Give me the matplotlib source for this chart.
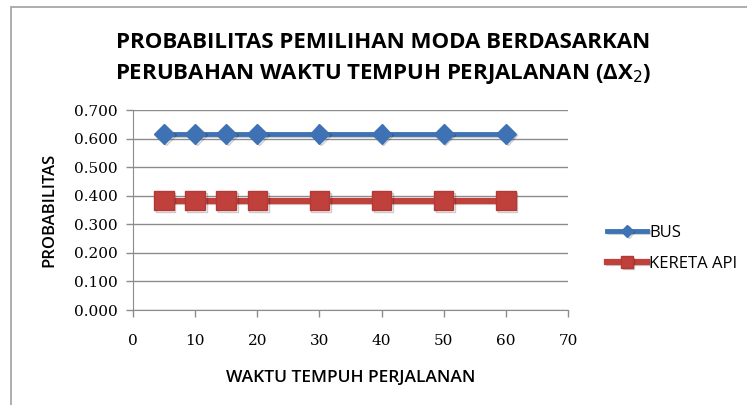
import matplotlib
matplotlib.use("Agg")
import matplotlib.pyplot as plt
import matplotlib.patheffects as pe
from matplotlib.patches import Rectangle

# Data
waktu = [5, 10, 15, 20, 30, 40, 50, 60]
bus = [0.617, 0.617, 0.617, 0.617, 0.617, 0.617, 0.617, 0.617]
kereta_api = [0.383, 0.383, 0.383, 0.383, 0.383, 0.383, 0.383, 0.383]
y_ticks = [0.0, 0.1, 0.2, 0.3, 0.4, 0.5, 0.6, 0.7]
x_ticks = [0, 10, 20, 30, 40, 50, 60, 70]

TITLE = "PROBABILITAS PEMILIHAN MODA BERDASARKAN\nPERUBAHAN WAKTU TEMPUH PERJALANAN (ΔX$_2$)"
SANS = "Open Sans"
SERIF = "DejaVu Serif"

fig = plt.figure(figsize=(7.47, 4.05), dpi=100)

# chart frame (top and left edges visible)
fig.patches.append(Rectangle((11 / 747, -0.1), 1.0, (405 - 7) / 405 + 0.1,
                             transform=fig.transFigure, fill=False,
                             edgecolor="#a0a0a0", linewidth=1.2))

ax = fig.add_axes([133 / 747, 95 / 405, 435 / 747, 200 / 405])

shadow = [pe.SimpleLineShadow(offset=(1.2, -1.2), alpha=0.2), pe.Normal()]

ax.plot(waktu, bus, color="#3f72b5", linewidth=3.5, marker="D",
        markersize=10, markeredgecolor="#3f72b5", label="BUS",
        path_effects=shadow, zorder=3)
ax.plot(waktu, kereta_api, color="#c0403c", linewidth=4.5, marker="s",
        markersize=14, markeredgecolor="#b23a36", label="KERETA API",
        path_effects=shadow, zorder=3)

ax.set_xlim(0, 70)
ax.set_ylim(0, 0.7)
ax.set_xticks(x_ticks)
ax.set_yticks(y_ticks)
ax.set_yticklabels([f"{v:.3f}" for v in y_ticks])

for side in ["top", "right"]:
    ax.spines[side].set_visible(False)
for side in ["left", "bottom"]:
    ax.spines[side].set_color("#8c8c8c")
ax.grid(axis="y", color="#8c8c8c", linewidth=1)
ax.set_axisbelow(True)
ax.tick_params(colors="#8c8c8c", length=5, width=1, labelcolor="black")
ax.tick_params(axis="x", pad=12)
ax.tick_params(axis="y", pad=6)
for lbl in ax.get_xticklabels() + ax.get_yticklabels():
    lbl.set_fontfamily(SERIF)
    lbl.set_fontsize(11)

ax.set_xlabel("WAKTU TEMPUH PERJALANAN", fontfamily=SANS, fontsize=12.5,
              fontweight="semibold", labelpad=16)
ax.set_ylabel("PROBABILITAS", fontfamily=SANS, fontsize=12,
              fontweight="semibold", labelpad=12)

fig.text(383 / 747, 1 - 59 / 405, TITLE, ha="center", va="center",
         fontfamily=SANS, fontsize=16, fontweight="bold", linespacing=1.5)

ax.legend(loc="center left", bbox_to_anchor=(1.055, 0.31), frameon=False,
          prop={"family": SANS, "size": 12}, handlelength=2.4,
          handletextpad=0.15, labelspacing=0.9, markerscale=0.6)

fig.savefig("out.png", dpi=100)
